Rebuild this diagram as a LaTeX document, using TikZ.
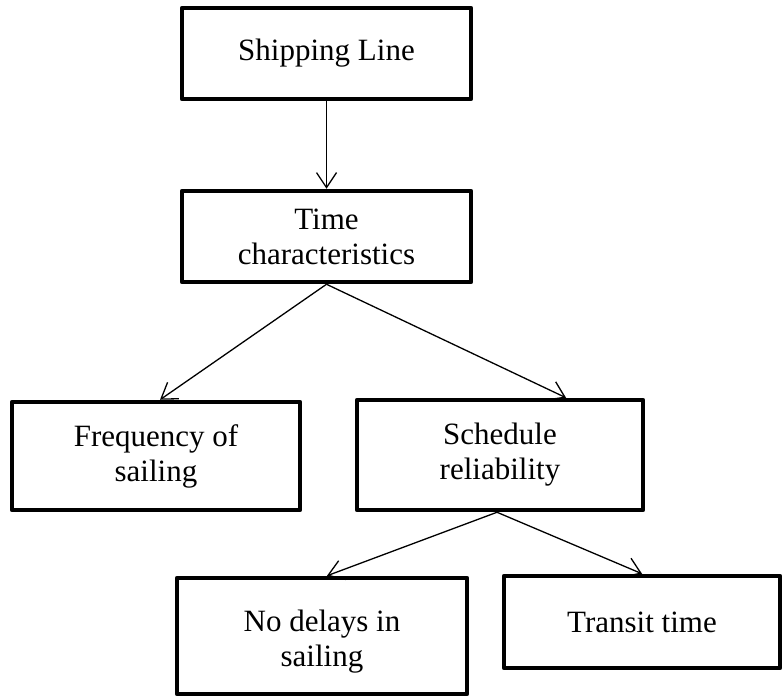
\documentclass[tikz,border=0pt]{standalone}
\usepackage{fontspec}
\setmainfont{Liberation Serif}
\usetikzlibrary{arrows.meta}

\begin{document}
\begin{tikzpicture}[x=1pt,y=-1pt,
  box/.style={draw=black, line width=4.5pt, line join=round, fill=white,
    align=center, inner sep=0pt, font=\fontsize{31}{35}\selectfont},
  label text/.style={align=center, inner sep=0pt, font=\fontsize{31}{35}\selectfont},
  link/.style={line width=1.3pt, -{Straight Barb[length=15pt,width=20pt,line width=1.3pt]}}]

  \useasboundingbox (0,0) rectangle (783,696);

  % boxes
  \node[box, minimum width=289pt, minimum height=91pt]  (ship)  at (326.5,53.5) {Shipping Line};
  \node[box, minimum width=289pt, minimum height=91pt]  (time)  at (326.5,236.5) {Time\\characteristics};
  \node[box, minimum width=288pt, minimum height=108pt] (freq)  at (156,456) {Frequency of\\sailing};
  \node[box, minimum width=286pt, minimum height=110pt] (sched) at (500,455) {Schedule\\reliability};
  \node[box, minimum width=290pt, minimum height=116pt] (delay) at (322,636) {};
  \node[label text] (delaytext) at (322,642) {No delays in\\sailing};
  \node[box, minimum width=276pt, minimum height=92pt]  (trans) at (642,622) {Transit time};

  % connectors
  \draw[link] (ship.south) -- (time.north);
  \draw[link] (time.south) -- ([xshift=4pt]freq.north);
  \draw[link] (time.south) -- ([xshift=66pt]sched.north);
  \draw[link] ([xshift=-3pt]sched.south) -- ([xshift=5pt]delay.north);
  \draw[link] ([xshift=-3pt]sched.south) -- (trans.north);
\end{tikzpicture}
\end{document}
